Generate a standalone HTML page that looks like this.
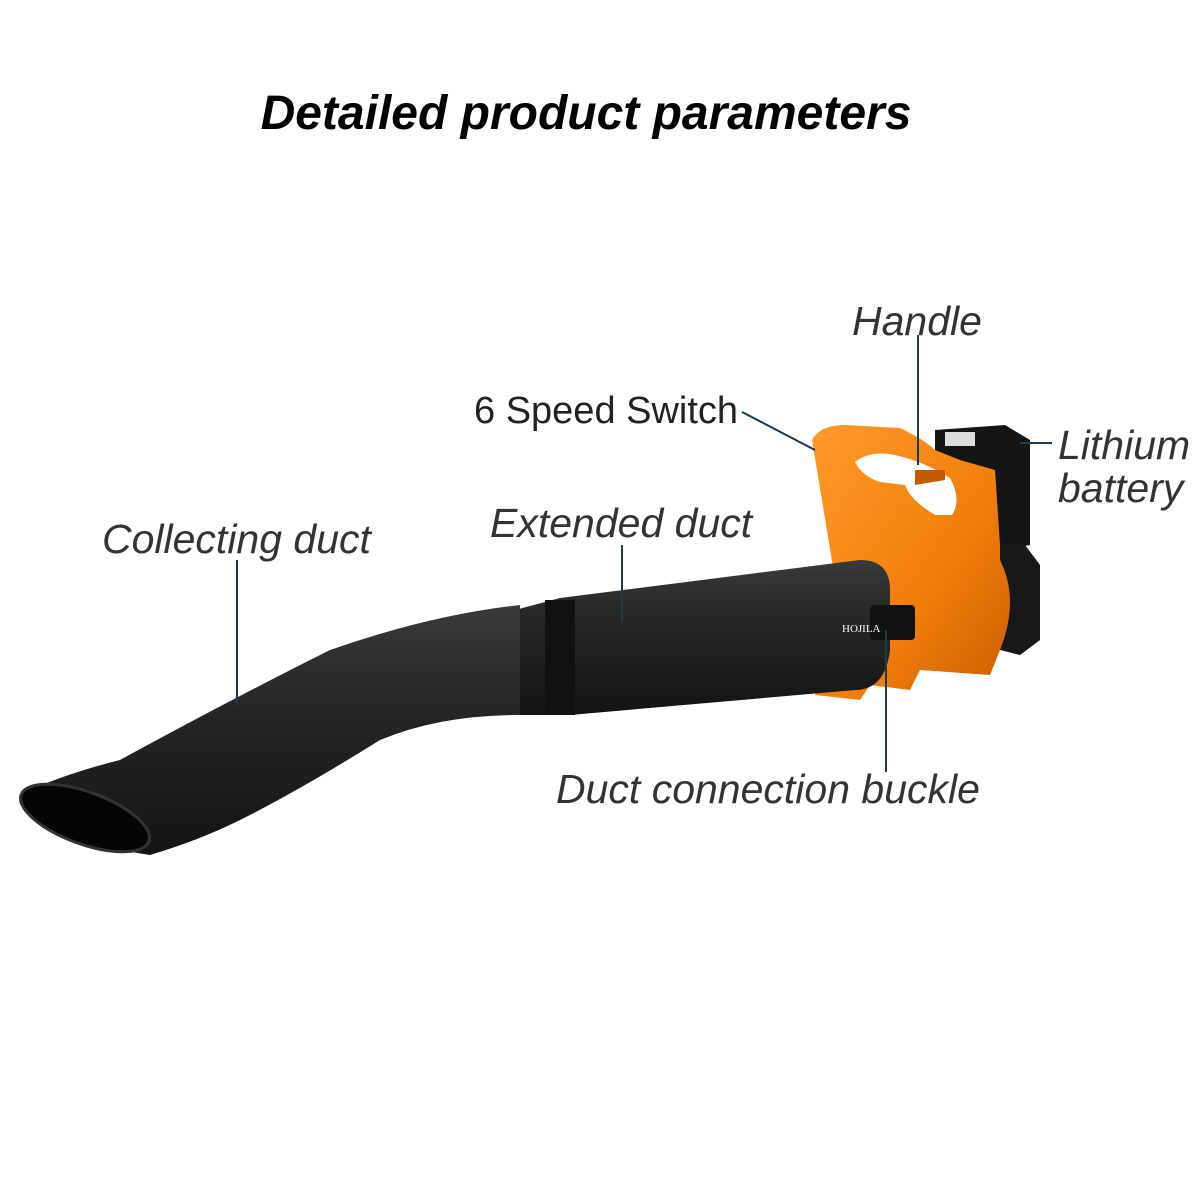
<!DOCTYPE html>
<html><head><meta charset="utf-8"><style>
html,body{margin:0;padding:0;background:#fff;width:1200px;height:1200px;overflow:hidden}
svg{display:block}
</style></head><body>
<svg width="1200" height="1200" viewBox="0 0 1200 1200" xmlns="http://www.w3.org/2000/svg">
<defs>
<linearGradient id="tube" x1="0" y1="0" x2="0" y2="1">
<stop offset="0" stop-color="#3a3a3a"/><stop offset="0.3" stop-color="#2a2a2a"/><stop offset="1" stop-color="#141414"/>
</linearGradient>
<linearGradient id="org" x1="0" y1="0" x2="1" y2="1">
<stop offset="0" stop-color="#ff9a2a"/><stop offset="0.6" stop-color="#f07d0c"/><stop offset="1" stop-color="#c85d00"/>
</linearGradient>
</defs>
<text x="586" y="129" text-anchor="middle" font-family="Liberation Sans, sans-serif" font-weight="bold" font-style="italic" font-size="48" fill="#000">Detailed product parameters</text>

<path d="M812 440 Q820 425 845 425 L900 428 Q925 440 935 450 L1000 455 L1010 545 L1000 560 Q1025 600 1000 650 L990 675 L920 670 L910 690 L870 685 L860 700 L815 695 L820 680 L850 670 Z" fill="url(#org)"/>
<path d="M855 462 Q870 450 895 455 Q925 462 950 478 Q962 500 952 515 L935 515 Q910 500 905 485 L880 482 Q862 476 855 462 Z" fill="#fff"/>
<path d="M915 470 L945 470 L945 480 L915 485 Z" fill="#c45a00"/>
<path d="M935 430 L1005 425 L1030 440 L1030 545 L1005 550 L1000 545 L995 470 L960 460 L935 450 Z" fill="#151515"/>
<rect x="945" y="432" width="30" height="14" fill="#ddd"/>
<path d="M1000 545 L1025 545 L1040 565 L1040 640 L1020 655 L1000 650 Q1020 600 1000 560 Z" fill="#181818"/>
<path d="M515 610 L560 598 L860 560 Q890 560 890 590 L890 650 Q885 690 855 690 L570 715 L515 715 Z" fill="url(#tube)"/>
<rect x="545" y="600" width="30" height="115" fill="#111"/>
<rect x="870" y="605" width="45" height="35" rx="4" fill="#111"/>
<text x="842" y="632" font-family="Liberation Serif, serif" font-size="11" fill="#fff">HOJILA</text>
<path d="M20 795 Q60 775 120 760 Q230 700 330 650 Q430 615 520 605 L520 715 Q440 715 380 740 Q300 790 240 820 Q200 840 150 855 Q80 845 25 810 Z" fill="url(#tube)"/>
<ellipse cx="85" cy="818" rx="68" ry="26" transform="rotate(20 85 818)" fill="#050505" stroke="#333" stroke-width="3"/>

<g stroke="#1f3a4a" stroke-width="2" fill="none">
<line x1="237" y1="560" x2="237" y2="705"/>
<line x1="622" y1="545" x2="622" y2="622"/>
<line x1="918" y1="335" x2="918" y2="465"/>
<line x1="742" y1="412" x2="815" y2="450"/>
<line x1="1020" y1="443" x2="1052" y2="443"/>
<line x1="886" y1="630" x2="886" y2="772"/>
</g>

<g font-family="Liberation Sans, sans-serif" font-style="italic" font-size="41" fill="#333">
<text x="102" y="553">Collecting duct</text>
<text x="490" y="537">Extended duct</text>
<text x="852" y="335">Handle</text>
<text x="1058" y="459">Lithium</text>
<text x="1058" y="502">battery</text>
<text x="556" y="803">Duct connection buckle</text>
</g>
<text x="474" y="423" font-family="Liberation Sans, sans-serif" font-size="38" fill="#222">6 Speed Switch</text>
</svg>
</body></html>
